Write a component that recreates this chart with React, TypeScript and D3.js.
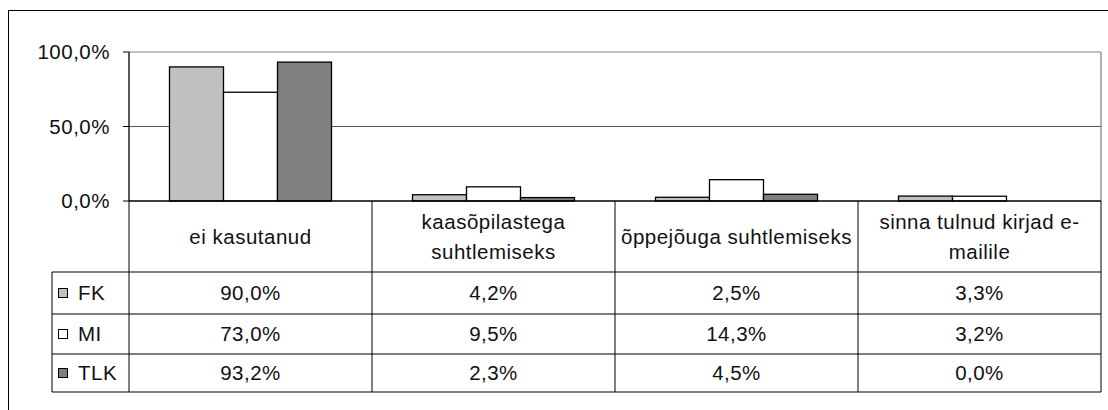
import React from 'react';
import * as d3 from 'd3';

const categories = ['ei kasutanud', 'kaasõpilastega suhtlemiseks', 'õppejõuga suhtlemiseks', 'sinna tulnud kirjad e-mailile'];
const categoryLines = [['ei kasutanud'], ['kaasõpilastega', 'suhtlemiseks'], ['õppejõuga suhtlemiseks'], ['sinna tulnud kirjad e-', 'mailile']];
const seriesNames = ['FK', 'MI', 'TLK'];
const seriesColors = ['#c0c0c0', '#ffffff', '#808080'];
const fk = [90.0, 4.2, 2.5, 3.3];
const mi = [73.0, 9.5, 14.3, 3.2];
const tlk = [93.2, 2.3, 4.5, 0.0];
const yTicks = [0, 50, 100];

const series = [fk, mi, tlk];

const App = () => {
    const W = 1108, H = 410;
    const left = 129, right = 1101, top = 52, zero = 201;
    const legendLeft = 52;
    const rowLines = [272, 314, 354, 392];
    const font = '"Liberation Sans", Arial, sans-serif';
    const fs = 20.5;

    const x = d3.scaleBand().domain(categories).range([left, right]);
    const xs = d3.scaleBand().domain(seriesNames).range([0, x.bandwidth()]).paddingOuter(0.75);
    const y = d3.scaleLinear().domain([0, 100]).range([zero, top]);
    const fmt = (v) => d3.format('.1f')(v).replace('.', ',') + '%';

    return (
        <svg width={W} height={H} style={{ position: 'absolute', left: 0, top: 0, background: '#fff' }}
            fontFamily={font} fontSize={fs} fill="#111" letterSpacing={0.5}>
            {/* outer frame */}
            <rect x={8.5} y={10.5} width={W + 10} height={H + 10} fill="none" stroke="#000" />

            {/* plot area */}
            <line x1={left} x2={right} y1={y(100)} y2={y(100)} stroke="#808080" strokeWidth={1.2} />
            <line x1={right} x2={right} y1={y(100)} y2={zero} stroke="#808080" strokeWidth={1.2} />
            {yTicks.filter(t => t > 0 && t < 100).map(t => (
                <line key={t} x1={left} x2={right} y1={y(t)} y2={y(t)} stroke="#555" strokeWidth={1} />
            ))}

            {/* bars */}
            {categories.map((c, ci) => (
                <g key={c}>
                    {series.map((s, si) => (
                        <rect key={si}
                            x={x(c) + xs(seriesNames[si])}
                            y={y(s[ci])}
                            width={xs.bandwidth()}
                            height={zero - y(s[ci])}
                            fill={seriesColors[si]} stroke="#000" strokeWidth={1.3} />
                    ))}
                </g>
            ))}

            {/* y axis */}
            <line x1={left} x2={left} y1={top} y2={zero} stroke="#000" strokeWidth={1.3} />
            {yTicks.map(t => (
                <g key={t}>
                    <line x1={left - 6} x2={left} y1={y(t)} y2={y(t)} stroke="#000" />
                    <text x={left - 19} y={y(t)} dy="0.36em" textAnchor="end">{fmt(t)}</text>
                </g>
            ))}

            {/* data table */}
            <line x1={left} x2={right} y1={zero} y2={zero} stroke="#000" strokeWidth={1.5} />
            {rowLines.map(r => (
                <line key={r} x1={legendLeft} x2={right} y1={r} y2={r} stroke="#000" strokeWidth={1} />
            ))}
            <line x1={legendLeft} x2={legendLeft} y1={rowLines[0]} y2={rowLines[3]} stroke="#000" />
            {categories.map(c => (
                <line key={c} x1={x(c)} x2={x(c)} y1={zero} y2={rowLines[3]} stroke="#000" />
            ))}
            <line x1={right} x2={right} y1={zero} y2={rowLines[3]} stroke="#000" />

            {categories.map((c, ci) => {
                const lines = categoryLines[ci];
                const cy = (zero + rowLines[0]) / 2;
                return (
                    <text key={c} x={x(c) + x.bandwidth() / 2} textAnchor="middle">
                        {lines.map((l, li) => (
                            <tspan key={li} x={x(c) + x.bandwidth() / 2}
                                y={cy + (li - (lines.length - 1) / 2) * 30} dy="0.36em">{l}</tspan>
                        ))}
                    </text>
                );
            })}

            {seriesNames.map((n, si) => {
                const cy = (rowLines[si] + rowLines[si + 1]) / 2;
                return (
                    <g key={n}>
                        <rect x={58.5} y={cy - 4.5} width={9} height={9} fill={seriesColors[si]} stroke="#000" strokeWidth={1} />
                        <text x={78} y={cy} dy="0.36em">{n}</text>
                        {categories.map((c, ci) => (
                            <text key={c} x={x(c) + x.bandwidth() / 2} y={cy} dy="0.36em" textAnchor="middle">
                                {fmt(series[si][ci])}
                            </text>
                        ))}
                    </g>
                );
            })}
        </svg>
    );
};

export default App;
